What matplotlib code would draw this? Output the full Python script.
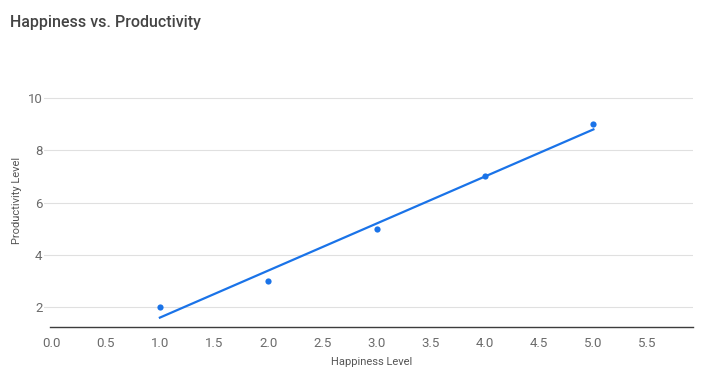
import numpy as np
import matplotlib
matplotlib.use("Agg")
import matplotlib.pyplot as plt

# data
happiness = [1, 2, 3, 4, 5]
productivity = [2, 3, 5, 7, 9]
xticks = [0.0, 0.5, 1.0, 1.5, 2.0, 2.5, 3.0, 3.5, 4.0, 4.5, 5.0, 5.5]
yticks = [2, 4, 6, 8, 10]

plt.rcParams['font.family'] = ['Roboto', 'DejaVu Sans']

fig = plt.figure(figsize=(7.08, 3.8), dpi=100)
ax = fig.add_axes([0.062, 0.1387, 0.917, 0.712])

blue = '#1a73e8'

# linear trendline
slope, intercept = np.polyfit(happiness, productivity, 1)
tx = np.array([min(happiness), max(happiness)])
ax.plot(tx, slope * tx + intercept, color=blue, lw=1.6, zorder=3)
ax.scatter(happiness, productivity, s=20, color=blue, zorder=4, linewidths=0)

ax.set_xlim(-0.07, 5.92)
ax.set_ylim(1.23, 11.58)
ax.set_xticks(xticks)
ax.set_xticklabels([f'{t:.1f}' for t in xticks])
ax.set_yticks(yticks)

for s in ax.spines.values():
    s.set_visible(False)
ax.axhline(1.23, xmin=0.009, xmax=1, color='#3c3c3c', lw=1, zorder=2, clip_on=False)
ax.grid(axis='y', color='#e0e0e0', lw=0.8)
ax.set_axisbelow(True)
ax.tick_params(length=0, labelsize=9.5, labelcolor='#6b6b6b')
ax.tick_params(axis='x', pad=7)
ax.tick_params(axis='y', pad=1)

ax.set_xlabel('Happiness Level', fontsize=8, color='#555555')
ax.xaxis.set_label_coords(0.505, -0.108)
ax.set_ylabel('Productivity Level', fontsize=8, color='#555555')
ax.yaxis.set_label_coords(-0.033, 0.47)

fig.text(0.014, 0.94, 'Happiness vs. Productivity', fontsize=11.5,
         fontweight='medium', color='#444444', va='center', ha='left')

fig.savefig('out.png', dpi=100)
